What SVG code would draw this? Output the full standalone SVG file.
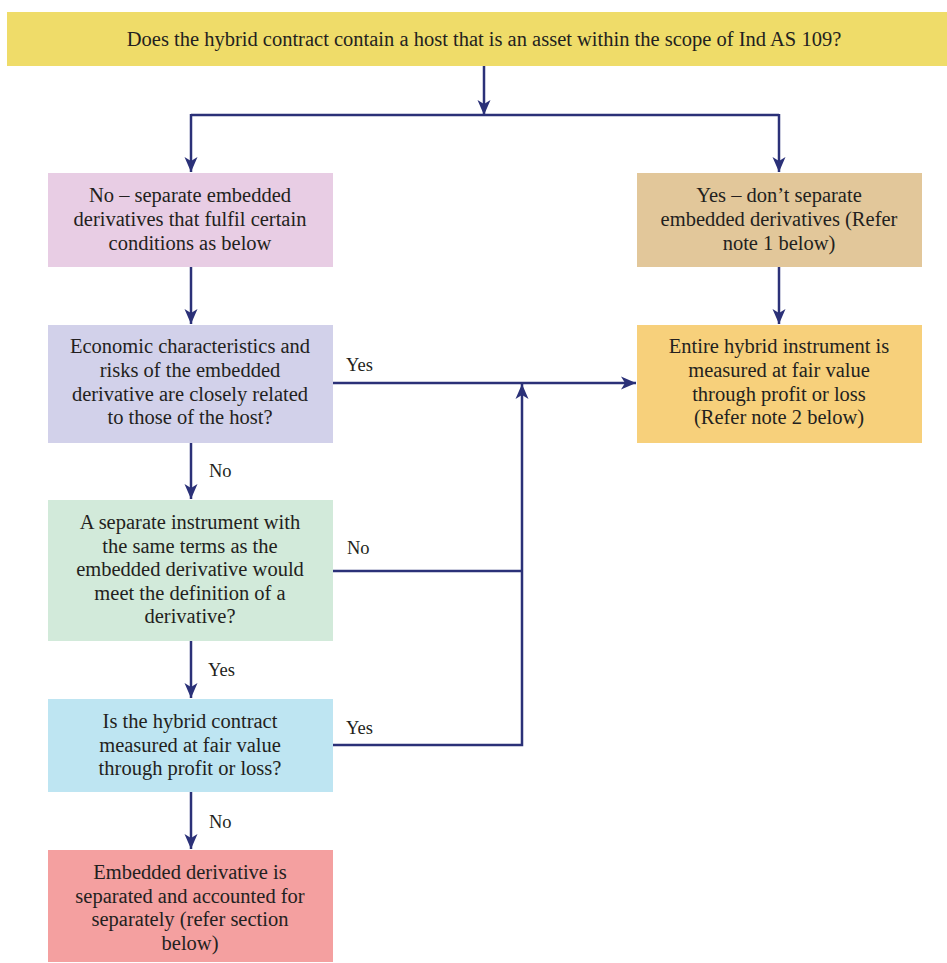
<svg xmlns="http://www.w3.org/2000/svg" width="947" height="963" viewBox="0 0 947 963">
<defs>
<marker id="ah" markerUnits="userSpaceOnUse" markerWidth="16" markerHeight="16" viewBox="0 0 16 16" refX="15" refY="8" orient="auto">
<path d="M0,1.5 L15,8 L0,14.5 L4,8 Z" fill="#2B3178"/>
</marker>
<style>
.t{font-family:"Liberation Serif","Times New Roman",serif;font-size:20.5px;fill:#231F20;text-anchor:middle}
.l{font-family:"Liberation Serif","Times New Roman",serif;font-size:18.5px;fill:#231F20}
.c{fill:none;stroke:#2B3178;stroke-width:2.5}
.a{marker-end:url(#ah)}
</style>
</defs>
<rect width="947" height="963" fill="#ffffff"/>
<g id="connectors">
<path class="c a" d="M484,65 V115"/>
<path class="c" d="M191,115 H779"/>
<path class="c a" d="M191,114 V172"/>
<path class="c a" d="M779,114 V172"/>
<path class="c a" d="M191,267 V324"/>
<path class="c a" d="M779,267 V324"/>
<path class="c a" d="M333,383 H636"/>
<path class="c a" d="M191,443 V499"/>
<path class="c a" d="M191,641 V698"/>
<path class="c a" d="M191,792 V849"/>
<path class="c" d="M333,571 H522"/>
<path class="c a" d="M333,745 H522 V384"/>
<text class="l" x="346" y="371">Yes</text>
<text class="l" x="209" y="477">No</text>
<text class="l" x="347" y="554">No</text>
<text class="l" x="208" y="676">Yes</text>
<text class="l" x="346" y="734">Yes</text>
<text class="l" x="209" y="828">No</text>
</g>
<g id="n0">
<rect x="7" y="12" width="940" height="54" fill="#EFDC69"/>
<text class="t" x="484" y="46">Does the hybrid contract contain a host that is an asset within the scope of Ind AS 109?</text>
</g>
<g id="n1">
<rect x="48" y="173" width="285" height="94" fill="#E8CDE4"/>
<text class="t" x="190" y="202">No – separate embedded</text>
<text class="t" x="190" y="226">derivatives that fulfil certain</text>
<text class="t" x="190" y="250">conditions as below</text>
</g>
<g id="n2">
<rect x="637" y="173" width="285" height="94" fill="#E2C79A"/>
<text class="t" x="779" y="202">Yes – don’t separate</text>
<text class="t" x="779" y="226">embedded derivatives (Refer</text>
<text class="t" x="779" y="250">note 1 below)</text>
</g>
<g id="n3">
<rect x="48" y="325" width="285" height="118" fill="#D2D1EA"/>
<text class="t" x="190" y="353">Economic characteristics and</text>
<text class="t" x="190" y="377">risks of the embedded</text>
<text class="t" x="190" y="401">derivative are closely related</text>
<text class="t" x="190" y="424">to those of the host?</text>
</g>
<g id="n4">
<rect x="637" y="325" width="285" height="118" fill="#F7D07B"/>
<text class="t" x="779" y="353">Entire hybrid instrument is</text>
<text class="t" x="779" y="377">measured at fair value</text>
<text class="t" x="779" y="401">through profit or loss</text>
<text class="t" x="779" y="424">(Refer note 2 below)</text>
</g>
<g id="n5">
<rect x="48" y="500" width="285" height="141" fill="#D2EADA"/>
<text class="t" x="190" y="529">A separate instrument with</text>
<text class="t" x="190" y="553">the same terms as the</text>
<text class="t" x="190" y="576">embedded derivative would</text>
<text class="t" x="190" y="600">meet the definition of a</text>
<text class="t" x="190" y="623">derivative?</text>
</g>
<g id="n6">
<rect x="48" y="699" width="285" height="93" fill="#BEE5F2"/>
<text class="t" x="190" y="728">Is the hybrid contract</text>
<text class="t" x="190" y="752">measured at fair value</text>
<text class="t" x="190" y="775">through profit or loss?</text>
</g>
<g id="n7">
<rect x="48" y="850" width="285" height="112" fill="#F4A0A0"/>
<text class="t" x="190" y="879">Embedded derivative is</text>
<text class="t" x="190" y="903">separated and accounted for</text>
<text class="t" x="190" y="926">separately (refer section</text>
<text class="t" x="190" y="950">below)</text>
</g>
</svg>
